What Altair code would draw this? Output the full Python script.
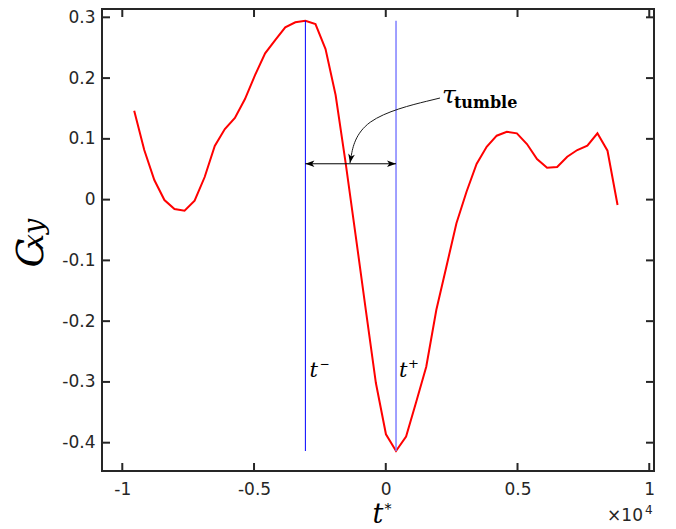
import altair as alt
import pandas as pd

# Time axis in units of 10^4 and the cross-correlation C_xy
t_scaled = [
    -0.9548, -0.9166, -0.8784, -0.8401, -0.8019, -0.7637, -0.7255, -0.6873,
    -0.6490, -0.6108, -0.5726, -0.5344, -0.4962, -0.4579, -0.4197, -0.3815,
    -0.3433, -0.3051, -0.2668, -0.2286, -0.1904, -0.1522, -0.1140, -0.0757,
    -0.0375, 0.0007, 0.0389, 0.0771, 0.1154, 0.1536, 0.1918, 0.2300,
    0.2682, 0.3065, 0.3447, 0.3829, 0.4211, 0.4593, 0.4976, 0.5358,
    0.5740, 0.6122, 0.6504, 0.6887, 0.7269, 0.7651, 0.8033, 0.8415, 0.8797,
]
cxy = [
    0.1463, 0.0816, 0.0323, -0.0007, -0.0155, -0.0183, -0.0018, 0.0372,
    0.0882, 0.1162, 0.1343, 0.1655, 0.2050, 0.2407, 0.2626, 0.2835,
    0.2918, 0.2944, 0.2890, 0.2478, 0.1721, 0.0602, -0.0599, -0.1817,
    -0.3018, -0.3862, -0.4137, -0.3898, -0.3331, -0.2750, -0.1817, -0.1104,
    -0.0390, 0.0130, 0.0586, 0.0870, 0.1052, 0.1117, 0.1091, 0.0915,
    0.0668, 0.0525, 0.0536, 0.0706, 0.0816, 0.0887, 0.1091, 0.0805, -0.0089,
]

x_ticks = [-1, -0.5, 0, 0.5, 1]
y_ticks = [-0.4, -0.3, -0.2, -0.1, 0, 0.1, 0.2, 0.3]

# t- at the maximum of C_xy, t+ at its minimum
t_minus = t_scaled[cxy.index(max(cxy))]
t_plus = t_scaled[cxy.index(min(cxy))]
span_level = 0.059

# curved pointer (start, control, tip) from the tau label to the span arrow
pointer_t = [0.2057, -0.1055, -0.1359]
pointer_c = [0.1672, 0.1343, 0.0602]
tau_anchor = (0.2133, 0.159)
label_level = -0.292

W, H = 552, 462
AXIS_COLOR = "#262626"
TICK_LEN = 8

xs = alt.Scale(domain=[-1.077, 1.018], nice=False, zero=False)
ys = alt.Scale(domain=[-0.4466, 0.3137], nice=False, zero=False)

label_expr = ("datum.value < 0 ? '-' + format(-datum.value, '~g') "
              ": format(datum.value, '~g')")

axis_common = dict(
    title=None, domain=False, ticks=False, grid=False,
    labelExpr=label_expr, labelFont="DejaVu Sans", labelFontSize=17,
    labelColor=AXIS_COLOR, labelFlush=False, labelOverlap=False,
)
x_axis = alt.Axis(values=x_ticks, labelPadding=10, **axis_common)
y_axis = alt.Axis(values=y_ticks, labelPadding=7, **axis_common)


def X(field):
    return alt.X(field, type="quantitative", scale=xs, axis=x_axis)


def Y(field):
    return alt.Y(field, type="quantitative", scale=ys, axis=y_axis)


curve_df = pd.DataFrame({"t": t_scaled, "c": cxy})
curve = alt.Chart(curve_df).mark_line(color="#ff0000", strokeWidth=2).encode(
    x=X("t"), y=Y("c"),
)

marker_df = pd.DataFrame({
    "t": [t_minus, t_plus],
    "c": [max(cxy)] * 2,
    "bot": [min(cxy)] * 2,
    "which": ["minus", "plus"],
})


def vline(which, color, width):
    return alt.Chart(marker_df).transform_filter(
        alt.datum.which == which
    ).mark_rule(color=color, strokeWidth=width).encode(
        x=X("t"), y=Y("c"), y2="bot:Q",
    )


line_minus = vline("minus", "#0000ff", 1)
line_plus = vline("plus", "#8080ff", 1.5)

span_df = pd.DataFrame({"t": [t_minus], "b": [t_plus], "c": [span_level]})
span = alt.Chart(span_df).mark_rule(color="black", strokeWidth=1).encode(
    x=X("t"), x2="b:Q", y=Y("c"),
)

HEAD_LEFT = "M0,0 L1,-0.37 L0.75,0 L1,0.37 Z"
HEAD_RIGHT = "M0,0 L-1,-0.37 L-0.75,0 L-1,0.37 Z"
HEAD_DOWN = "M0,0 L-0.37,-1 L0,-0.75 L0.37,-1 Z"


def head(tval, cval, shape, angle=0):
    d = pd.DataFrame({"t": [tval], "c": [cval]})
    return alt.Chart(d).mark_point(
        shape=shape, filled=True, color="black", opacity=1,
        size=324, strokeWidth=0, angle=angle,
    ).encode(x=X("t"), y=Y("c"))


head_l = head(t_minus, span_level, HEAD_LEFT)
head_r = head(t_plus, span_level, HEAD_RIGHT)

pointer_df = pd.DataFrame({"t": pointer_t, "c": pointer_c, "o": [0, 1, 2]})
pointer = alt.Chart(pointer_df).mark_line(
    color="#1a1a1a", strokeWidth=1, interpolate="basis"
).encode(x=X("t"), y=Y("c"), order="o:O")
pointer_head = head(pointer_t[-1], pointer_c[-1], HEAD_DOWN, angle=10)


def data_text(tval, cval, text, size, dx=0, dy=0, font="DejaVu Serif",
              style="italic", weight="normal"):
    d = pd.DataFrame({"t": [tval], "c": [cval], "s": [text]})
    return alt.Chart(d).mark_text(
        font=font, fontSize=size, fontStyle=style, fontWeight=weight,
        align="left", baseline="alphabetic", dx=dx, dy=dy, color="black",
    ).encode(x=X("t"), y=Y("c"), text="s:N")


tm_t = data_text(t_minus, label_level, "t", 21, dx=4)
tm_s = data_text(t_minus, label_level, "\u2212", 12, dx=14, dy=-9,
                 font="DejaVu Sans", style="normal")
tp_t = data_text(t_plus, label_level, "t", 21, dx=3)
tp_s = data_text(t_plus, label_level, "+", 13, dx=12, dy=-9,
                 font="DejaVu Sans", style="normal")
tau = data_text(tau_anchor[0], tau_anchor[1], "\u03c4", 25)
tau_sub = data_text(tau_anchor[0], tau_anchor[1], "tumble", 16, dx=12, dy=5,
                    style="normal", weight="bold")


def px_text(x, y, text, size, font="DejaVu Serif", style="italic",
            align="center", angle=0, color="black"):
    d = pd.DataFrame({"s": [text]})
    kw = dict(font=font, fontSize=size, fontStyle=style, align=align,
              baseline="alphabetic", color=color)
    if angle:
        kw["angle"] = angle
    return alt.Chart(d).mark_text(**kw).encode(
        x=alt.value(x), y=alt.value(y), text="s:N"
    )


# axis titles and the exponent note
ylab_c = px_text(-59, 244, "C", 38, angle=270)
ylab_s = px_text(-59, 225, "xy", 27, angle=270)
xlab_t = px_text(276, 514, "t", 27)
xlab_s = px_text(286, 505, "*", 14, style="normal", align="center")
exp_base = px_text(541, 512, "\u00d710", 17, font="DejaVu Sans",
                   style="normal", align="right", color=AXIS_COLOR)
exp_pow = px_text(543, 505, "4", 12, font="DejaVu Sans", style="normal",
                  align="left", color=AXIS_COLOR)

# inward ticks on all four sides of the box
xt_df = pd.DataFrame({"t": x_ticks})
yt_df = pd.DataFrame({"c": y_ticks})
tick_style = dict(color=AXIS_COLOR, strokeWidth=2)
ticks_bottom = alt.Chart(xt_df).mark_rule(**tick_style).encode(
    x=X("t"), y=alt.value(H), y2=alt.value(H - TICK_LEN))
ticks_top = alt.Chart(xt_df).mark_rule(**tick_style).encode(
    x=X("t"), y=alt.value(0), y2=alt.value(TICK_LEN))
ticks_left = alt.Chart(yt_df).mark_rule(**tick_style).encode(
    y=Y("c"), x=alt.value(0), x2=alt.value(TICK_LEN))
ticks_right = alt.Chart(yt_df).mark_rule(**tick_style).encode(
    y=Y("c"), x=alt.value(W - TICK_LEN), x2=alt.value(W))

chart = alt.layer(
    curve, line_minus, line_plus, span, head_l, head_r, pointer, pointer_head,
    tm_t, tm_s, tp_t, tp_s, tau, tau_sub,
    ylab_c, ylab_s, xlab_t, xlab_s, exp_base, exp_pow,
    ticks_bottom, ticks_top, ticks_left, ticks_right,
).properties(
    width=W, height=H,
    autosize=alt.AutoSizeParams(type="none"),
    padding={"left": 102, "top": 9, "right": 22, "bottom": 58},
    background="white",
).configure_view(stroke=AXIS_COLOR, strokeWidth=2)

chart.save("out.html", embed_options={"renderer": "svg", "actions": False})
